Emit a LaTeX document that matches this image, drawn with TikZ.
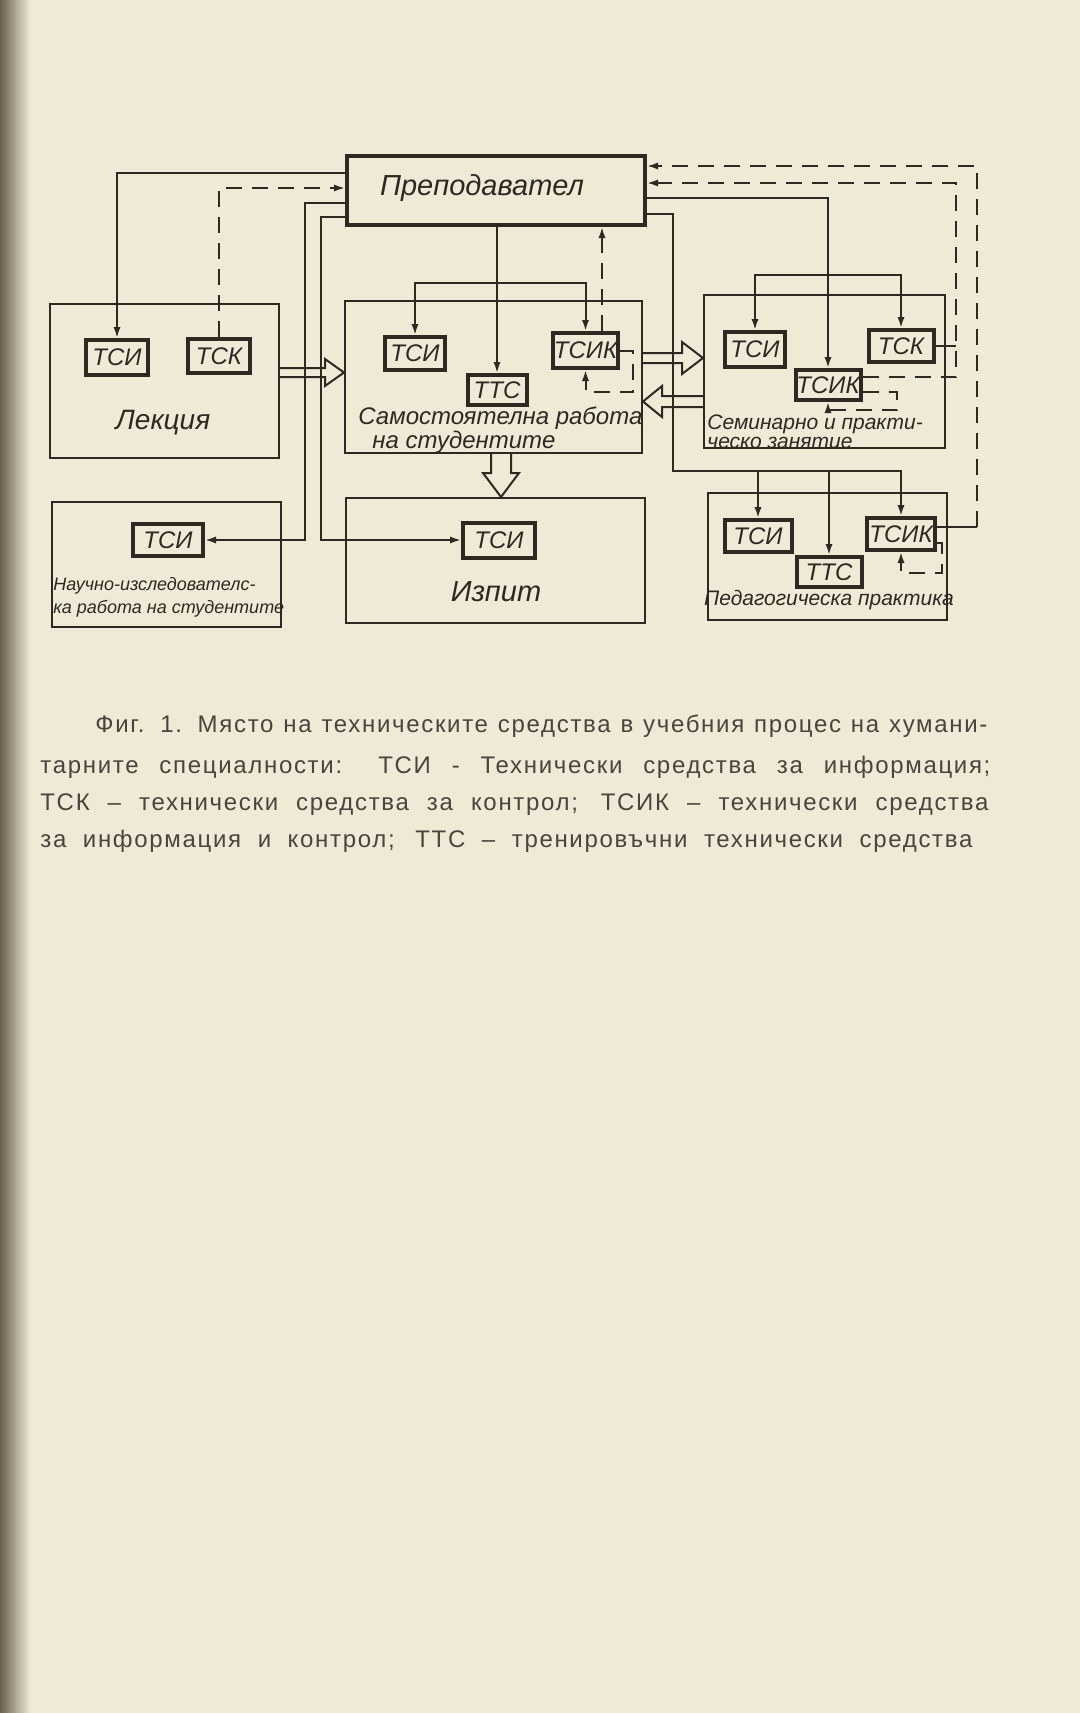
\documentclass[tikz,border=0pt]{standalone}
\usepackage{fontspec}
\setmainfont{Liberation Sans}
\newfontfamily\capfont{Liberation Sans}[LetterSpace=7]
\usetikzlibrary{arrows.meta,calc}
\definecolor{paper}{RGB}{239,233,213}
\definecolor{ink}{RGB}{45,40,34}
\definecolor{capink}{RGB}{72,68,62}
\definecolor{edgecol}{RGB}{105,96,78}
\begin{document}
\begin{tikzpicture}[x=0.5pt,y=-0.5pt,
  ln/.style={draw=ink,line width=1pt},
  conn/.style={ln,-{Latex[length=5.5pt,width=3.6pt]}},
  dconn/.style={conn,dash pattern=on 8pt off 5pt},
  dln/.style={ln,dash pattern=on 8pt off 5pt},
  frame/.style={draw=ink,line width=1pt,inner sep=0pt},
  bx/.style 2 args={minimum width=#1*0.5pt,minimum height=#2*0.5pt},
  tbox/.style={draw=ink,line width=2pt,fill=paper,inner sep=0pt,text=ink,font=\itshape\fontsize{12}{12}\selectfont},
  lbl/.style={inner sep=0pt,text=ink},
  captxt/.style={inner sep=0pt,anchor=west,text=capink,font=\capfont\fontsize{12}{14}\selectfont}
]
\fill[paper] (0,0) rectangle (1080,1713);
\shade[left color=edgecol,right color=paper] (0,0) rectangle (30,1713);
\useasboundingbox (0,0) rectangle (1080,1713);

% big boxes
\node[frame,bx={298}{69},line width=2pt] (prep) at (496,190.5) {};
\node[frame,bx={229}{154}] (lect) at (164.5,381) {};
\node[frame,bx={297}{152}] (samo) at (493.5,377) {};
\node[frame,bx={241}{153}] (sem) at (824.5,371.5) {};
\node[frame,bx={239}{127}] (ped) at (827.5,556.5) {};
\node[frame,bx={229}{125}] (nauk) at (166.5,564.5) {};
\node[frame,bx={299}{125}] (izp) at (495.5,560.5) {};

% box titles
\node[lbl,font=\itshape\fontsize{14.5}{16}\selectfont] (tprep) at (482,188) {Преподавател};
\node[lbl,font=\itshape\fontsize{14}{16}\selectfont] (tlect) at (163,423) {Лекция};
\node[lbl,anchor=west,align=left,font=\itshape\fontsize{12}{10.5}\selectfont] (tsamo) at (358,430) {Самостоятелна работа\\\hspace{7pt}на студентите};
\node[lbl,anchor=west,align=left,font=\itshape\fontsize{10.5}{9.5}\selectfont] (tsem) at (707,432) {Семинарно и практи-\\ческо занятие};
\node[lbl,font=\itshape\fontsize{10.5}{12}\selectfont] (tped) at (829,600) {Педагогическа практика};
\node[lbl,anchor=west,align=left,font=\itshape\fontsize{9}{11.5}\selectfont] (tnauk) at (53,597) {Научно-изследователс-\\ка работа на студентите};
\node[lbl,font=\itshape\fontsize{14.5}{16}\selectfont] (tizp) at (496,592) {Изпит};

% small boxes
\node[tbox,bx={62}{35}] (lectTSI) at (117,357.5) {ТСИ};
\node[tbox,bx={62}{34}] (lectTSK) at (219,356) {ТСК};
\node[tbox,bx={60}{33}] (samoTSI) at (415,353.5) {ТСИ};
\node[tbox,bx={59}{30}] (samoTTS) at (497,390) {ТТС};
\node[tbox,bx={65}{35}] (samoTSIK) at (585.5,350.5) {ТСИК};
\node[tbox,bx={60}{35}] (semTSI) at (755,349.5) {ТСИ};
\node[tbox,bx={65}{32}] (semTSK) at (901,346) {ТСК};
\node[tbox,bx={65}{30}] (semTSIK) at (828,385) {ТСИК};
\node[tbox,bx={67}{32}] (pedTSI) at (758,536) {ТСИ};
\node[tbox,bx={65}{30}] (pedTTS) at (829,572) {ТТС};
\node[tbox,bx={68}{32}] (pedTSIK) at (901,534) {ТСИК};
\node[tbox,bx={70}{32}] (naukTSI) at (168,540) {ТСИ};
\node[tbox,bx={72}{35}] (izpTSI) at (499,540) {ТСИ};

% bend points
\coordinate (bL1) at (305,203);
\coordinate (bL2) at (321,217);
\coordinate (bR1) at (673,214);
\coordinate (bR2) at (673,471);
\coordinate (bPed) at (977,527);

% left side connectors
\draw[conn] (prep.west |- 0,173) -| (lectTSI.north);
\draw[dconn] (lectTSK.north) |- (prep.west |- 0,188);
\draw[conn] (prep.west |- bL1) -- (bL1) -- (naukTSI.east -| bL1) -- (naukTSI.east);
\draw[conn] (prep.west |- bL2) -- (bL2) -- (izpTSI.west -| bL2) -- (izpTSI.west);

% centre connectors
\draw[conn] (prep.south -| samoTTS) -- (samoTTS.north);
\draw[conn] (samoTTS.north |- 0,283) -| (samoTSI.north);
\draw[conn] (samoTTS.north |- 0,283) -| (samoTSIK.north);
\draw[dconn] (samoTSIK.north -| 602,0) -- (prep.south -| 602,0);
\draw[dconn] (samoTSIK.east) -| (633,392) -| (samoTSIK.south);

% seminar connectors
\draw[conn] (prep.east |- 0,198) -| (semTSIK.north);
\draw[conn] (semTSIK.north |- 0,275) -| (semTSI.north);
\draw[conn] (semTSIK.north |- 0,275) -| (semTSK.north);
\draw[dconn] (semTSIK.east |- 0,392) -| (897,410) -| (semTSIK.south);
\draw[ln] (semTSK.east) -- (semTSK.east -| 956,0);
\draw[dconn] (semTSIK.east |- 0,377) -| (956,183) -- (prep.east |- 0,183);

% pedagogical practice connectors
\draw[conn] (prep.east |- bR1) -- (bR1) -- (bR2) -| (pedTSIK.north);
\draw[conn] (pedTSI.north |- bR2) -- (pedTSI.north);
\draw[conn] (pedTTS.north |- bR2) -- (pedTTS.north);
\draw[dconn] (pedTSIK.east |- 0,543) -| (942,573) -| (pedTSIK.south);
\draw[ln] (pedTSIK.east |- bPed) -- (bPed);
\draw[dconn] (bPed) -- (977,166) -- (prep.east |- 0,166);

% hollow arrows
\draw[ln,line join=miter] (lect.east |- 0,368) -- (325,368) -- (325,359) -- (samo.west |- 0,372.5) -- (325,386) -- (325,377) -- (lect.east |- 0,377);
\draw[ln,line join=miter] (samo.east |- 0,353) -- (682,353) -- (682,342) -- (sem.west |- 0,358) -- (682,374) -- (682,363) -- (samo.east |- 0,363);
\draw[ln,line join=miter] (sem.west |- 0,396) -- (662,396) -- (662,386) -- (samo.east |- 0,401.5) -- (662,417) -- (662,407) -- (sem.west |- 0,407);
\draw[ln,line join=miter] (samo.south -| 491,0) -- (491,473) -- (483,473) -- (izp.north -| 501,0) -- (519,473) -- (511,473) -- (samo.south -| 511,0);

% caption
\node[captxt] (cap1) at (95,726) {\makebox[446pt][s]{Фиг. 1. Място на техническите средства в учебния процес на хумани-}};
\node[captxt] (cap2) at (40,767) {\makebox[475pt][s]{тарните специалности: ТСИ - Технически средства за информация;}};
\node[captxt] (cap3) at (40,805) {\makebox[474pt][s]{ТСК – технически средства за контрол; ТСИК – технически средства}};
\node[captxt] (cap4) at (40,841) {\makebox[466pt][s]{за информация и контрол; ТТС – тренировъчни технически средства}};
\end{tikzpicture}
\end{document}
